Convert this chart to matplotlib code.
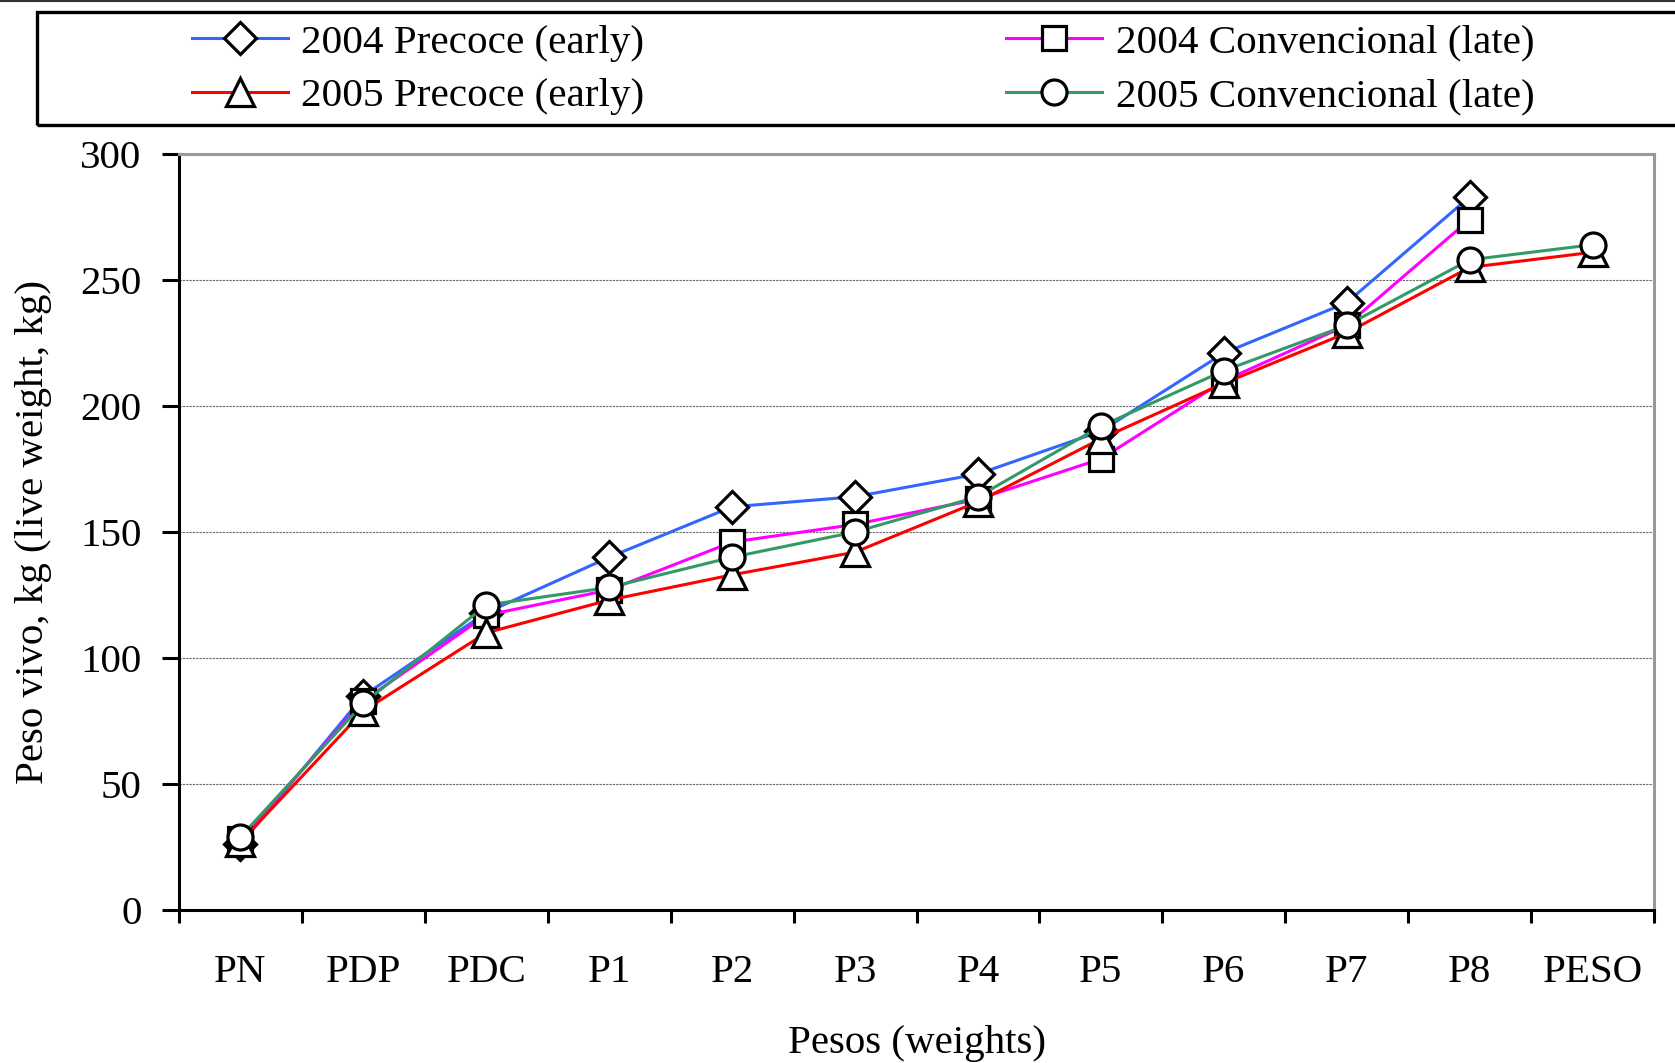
import numpy as np
import matplotlib
matplotlib.use('Agg')
import matplotlib.pyplot as plt
from matplotlib.patches import Rectangle
from matplotlib.lines import Line2D

plt.rcParams['font.family'] = ['Liberation Serif', 'DejaVu Serif']

categories = ['PN', 'PDP', 'PDC', 'P1', 'P2', 'P3', 'P4', 'P5', 'P6', 'P7', 'P8', 'PESO']
precoce_2004 = [26, 85, 118, 140, 160, 164, 173, 190, 221, 241, 283, np.nan]
convencional_2004 = [28, 83, 117, 127, 146, 153, 163, 179, 210, 232, 274, np.nan]
precoce_2005 = [27, 79, 110, 123, 133, 142, 162, 187, 209, 229, 255, 261]
convencional_2005 = [29, 82, 121, 128, 140, 150, 164, 192, 214, 232, 258, 264]

labels = ['2004 Precoce (early)', '2004 Convencional (late)',
          '2005 Precoce (early)', '2005 Convencional (late)']
colors = ['#3366FF', '#FF00FF', '#FF0000', '#339966']
markers = ['D', 's', '^', 'o']
msizes = [16, 17, 20, 18]

W, H = 1675, 1063
fig = plt.figure(figsize=(W / 100, H / 100), dpi=100)
ax = fig.add_axes([179 / W, 1 - 910 / H, (1654 - 179) / W, (910 - 154) / H])

x = np.arange(len(categories))
series = [precoce_2004, convencional_2004, precoce_2005, convencional_2005]
handles = []
for s, lab, c, m, ms in zip(series, labels, colors, markers, msizes):
    h, = ax.plot(x, s, color=c, lw=2.2, marker=m, markersize=ms,
                 markerfacecolor='white', markeredgecolor='black',
                 markeredgewidth=2.3, label=lab, clip_on=False)
    handles.append(h)

ax.set_xlim(-0.5, len(categories) - 0.5)
ax.set_ylim(0, 300)
ax.set_yticks(np.arange(0, 301, 50))
ax.set_xticks(np.arange(-0.5, len(categories), 1.0))
ax.set_xticklabels([])
ax.set_xticks(x, minor=True)
ax.set_xticklabels(categories, minor=True)

ax.tick_params(axis='x', which='major', direction='out', length=9, width=2.2, color='black')
ax.tick_params(axis='x', which='minor', length=0, pad=32, labelsize=29.5)
ax.tick_params(axis='y', which='major', direction='out', length=12, width=2.2,
               pad=15, labelsize=29.5)

for sp in ['left', 'bottom']:
    ax.spines[sp].set_color('black')
    ax.spines[sp].set_linewidth(2.2)
for sp in ['top', 'right']:
    ax.spines[sp].set_color('#999999')
    ax.spines[sp].set_linewidth(2.2)

for yv in [50, 100, 150, 200, 250]:
    ax.axhline(yv, color='#666666', lw=0.8, ls=(0, (2, 1)), zorder=0.5)

ax.set_xlabel('Pesos (weights)', fontsize=29.5, labelpad=24)
ax.set_ylabel('Peso vivo, kg (live weight, kg)', fontsize=29.5, labelpad=20)

# legend box
fig.patches.append(Rectangle((37 / W, 1 - 125 / H), (W - 37) / W + 0.01, 113 / H,
                             transform=fig.transFigure, fill=False,
                             edgecolor='black', lw=2.4))
fig.lines.append(Line2D([0, 1], [1 - 0.8 / H, 1 - 0.8 / H], transform=fig.transFigure,
                        color='#333333', lw=1.5))

leg = fig.legend(handles=[handles[0], handles[2], handles[1], handles[3]],
                 labels=[labels[0], labels[2], labels[1], labels[3]],
                 loc='upper left', bbox_to_anchor=(192 / W, 1 - 24 / H),
                 ncol=2, frameon=False, fontsize=29.6, handlelength=2.33,
                 handletextpad=0.33, columnspacing=8.8, labelspacing=0.38,
                 borderpad=0, borderaxespad=0, markerscale=1.0)

fig.savefig('out.png', dpi=100)
